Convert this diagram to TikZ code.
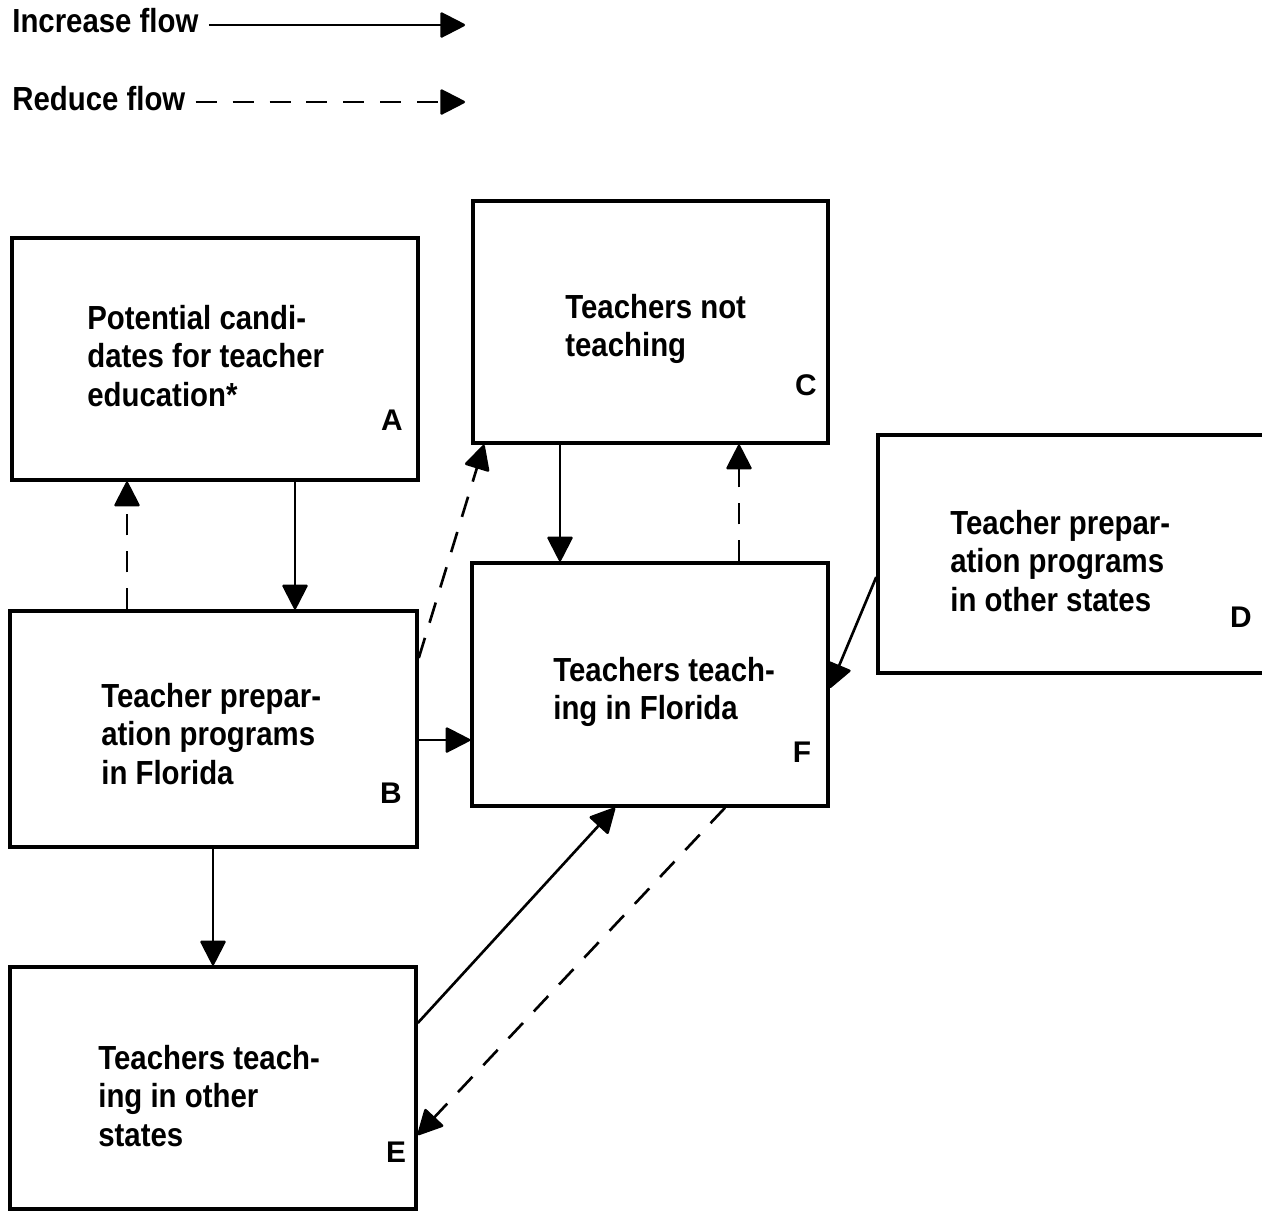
\documentclass[tikz,border=0pt]{standalone}
\usepackage{fontspec}
\newfontfamily\flowfont{Liberation Sans}[FakeStretch=0.88]
\newfontfamily\letterfont{Liberation Sans}
\usetikzlibrary{arrows.meta,calc}

\tikzset{
  flowbox/.style 2 args={draw, line width=2pt, inner sep=0pt,
    minimum width=#1*0.02cm, minimum height=#2*0.02cm},
  boxtext/.style={anchor=north west, inner sep=0pt, align=left,
    font=\flowfont\bfseries\fontsize{19}{21.8}\selectfont},
  boxletter/.style={inner sep=0pt, font=\letterfont\bfseries\fontsize{17}{18}\selectfont},
  increase/.style={line width=1.5pt, -{Triangle[length=15pt,width=15pt,round]}},
  reduce/.style={increase, dash pattern=on 12pt off 9pt},
}

\begin{document}
\begin{tikzpicture}[x=0.02cm, y=-0.02cm]
  \useasboundingbox (0,0) rectangle (1262,1211);

  % legend
  \node[boxtext, anchor=base west] (inc) at (12,32) {Increase flow};
  \node[boxtext, anchor=base west] (red) at (12,110) {Reduce flow};
  \coordinate (incend) at (465,25);
  \coordinate (redend) at (465,102);
  \draw[increase] ($(inc.base east)+(10,-7)$) -- (incend);
  \draw[reduce] ($(red.base east)+(10,-8)$) -- (redend);

  % boxes
  \node[flowbox={406}{242}] (A) at (215,359) {};
  \node[flowbox={407}{236}] (B) at (213.5,729) {};
  \node[flowbox={355}{242}] (C) at (650.5,322) {};
  \node[flowbox={412}{238}] (D) at (1084,554) {};
  \node[flowbox={406}{242}] (E) at (213,1088) {};
  \node[flowbox={356}{243}] (F) at (650,684.5) {};

  % box texts
  \node[boxtext] (Atext) at (87,305) {Potential candi-\\dates for teacher\\education*};
  \node[boxtext] (Btext) at (101,683) {Teacher prepar-\\ation programs\\in Florida};
  \node[boxtext] (Ctext) at (565,294) {Teachers not\\teaching};
  \node[boxtext] (Dtext) at (950,510) {Teacher prepar-\\ation programs\\in other states};
  \node[boxtext] (Etext) at (98,1045) {Teachers teach-\\ing in other\\states};
  \node[boxtext] (Ftext) at (553,657) {Teachers teach-\\ing in Florida};

  % box letters
  \node[boxletter] (Alabel) at (392,420) {A};
  \node[boxletter] (Blabel) at (391,793) {B};
  \node[boxletter] (Clabel) at (806,385) {C};
  \node[boxletter] (Dlabel) at (1241,617) {D};
  \node[boxletter] (Elabel) at (396,1152) {E};
  \node[boxletter] (Flabel) at (802,752) {F};

  % flows
  \draw[increase] (A.south -| 295,0) -- (B.north -| 295,0);
  \draw[reduce] (B.north -| 127,0) -- (A.south -| 127,0);
  \draw[reduce] (B.east |- 0,658) -- (C.south -| 484,0);
  \draw[increase] (B.east |- 0,740) -- (F.west |- 0,740);
  \draw[increase] (C.south -| 560,0) -- (F.north -| 560,0);
  \draw[reduce] (F.north -| 739,0) -- (C.south -| 739,0);
  \draw[increase] (D.west |- 0,577) -- (F.east |- 0,688);
  \draw[increase] (B.south -| 213,0) -- (E.north -| 213,0);
  \draw[increase] (E.east |- 0,1023) -- (F.south -| 615,0);
  \draw[reduce] (F.south -| 725,0) -- (E.east |- 0,1135);
\end{tikzpicture}
\end{document}
